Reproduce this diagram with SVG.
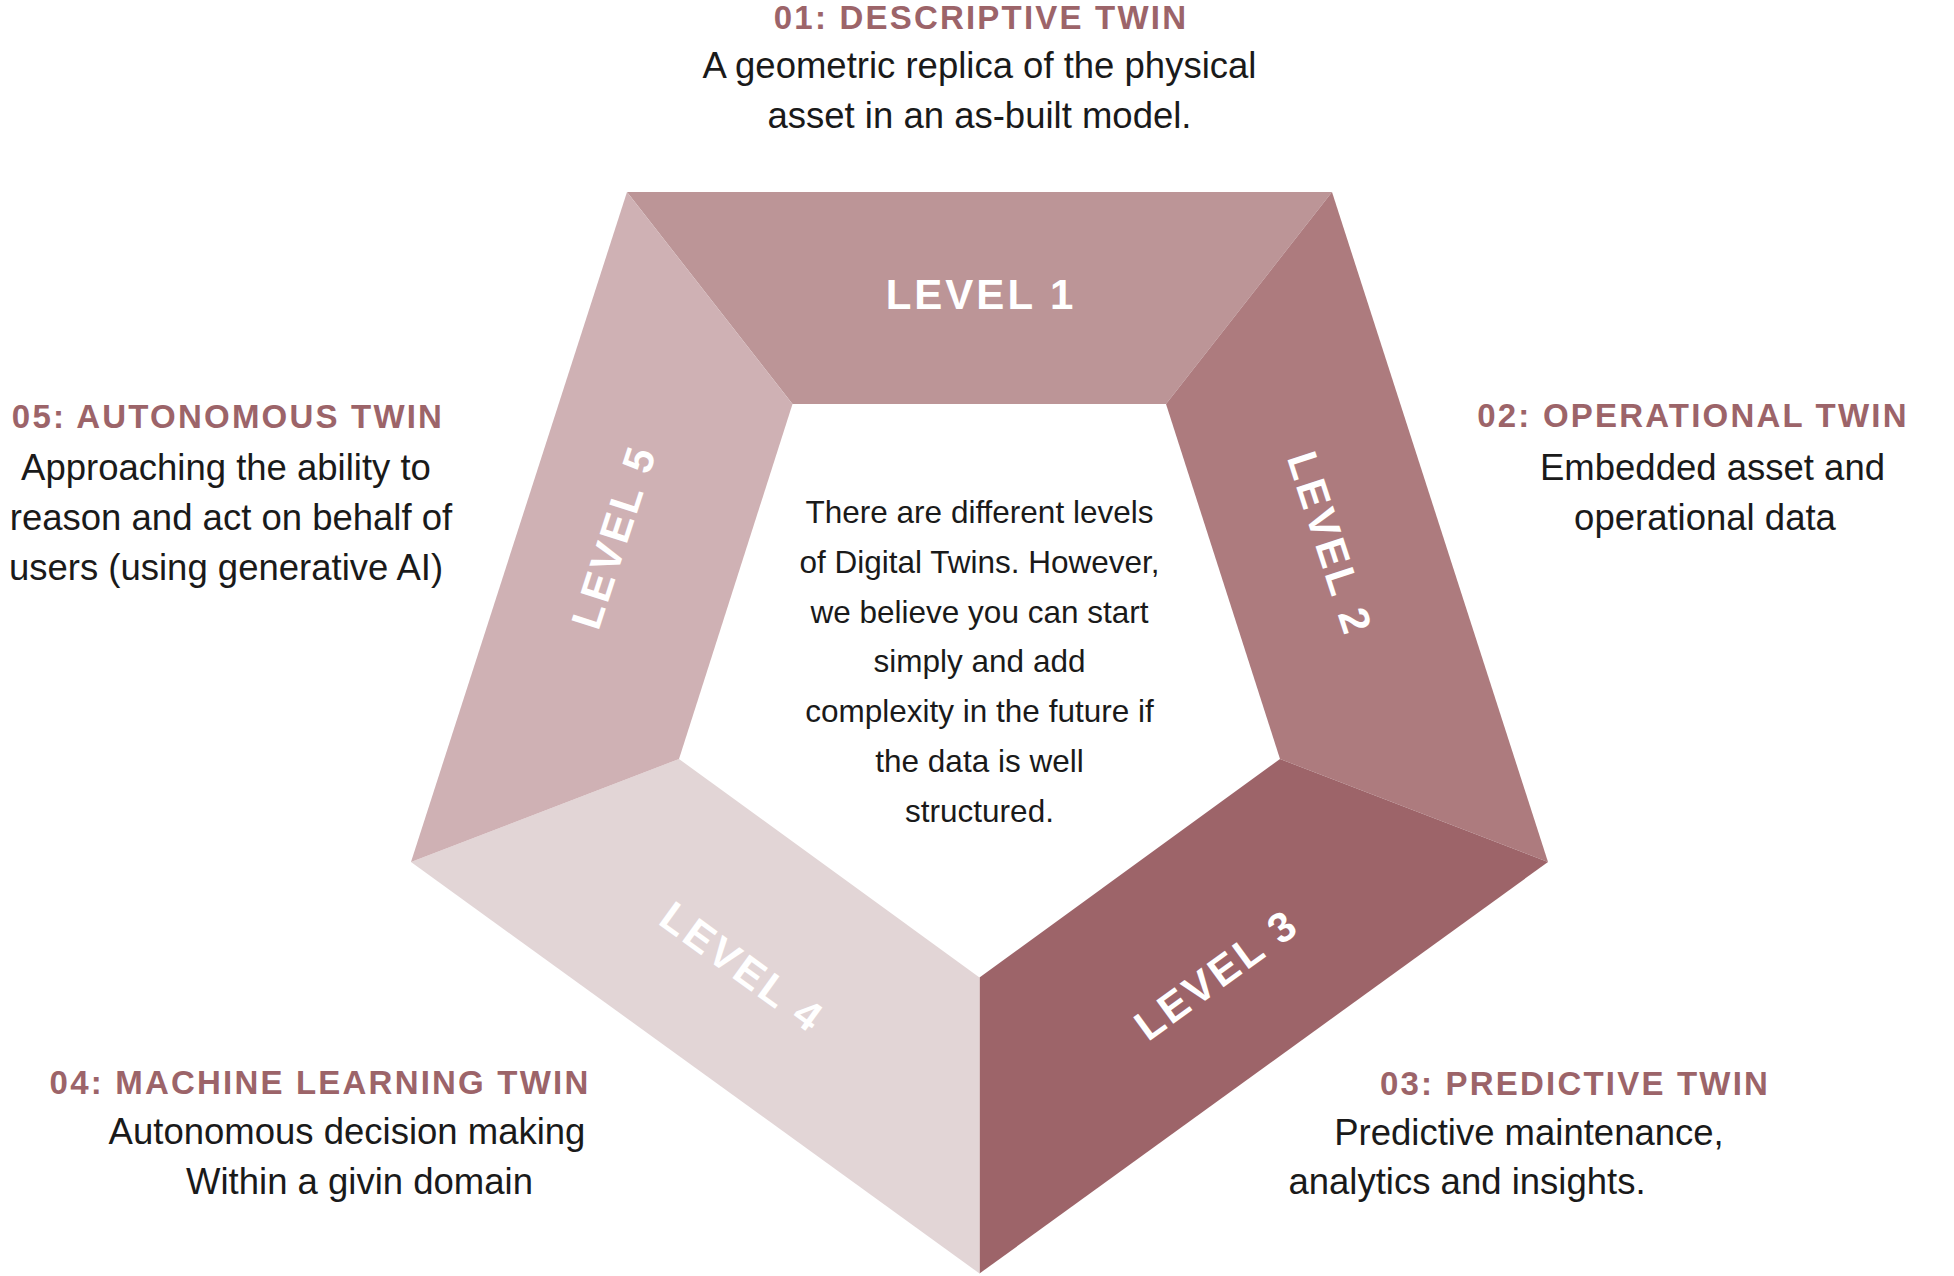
<svg xmlns="http://www.w3.org/2000/svg" width="1954" height="1276" viewBox="0 0 1954 1276">
<style>
.title{font-family:"Liberation Sans",Arial,sans-serif;font-weight:bold;font-size:33px;letter-spacing:2.2px;fill:#9C6469;text-anchor:middle}
.body{font-family:"Liberation Sans",Arial,sans-serif;font-size:36.5px;fill:#1a1a1a;text-anchor:middle}
.center{font-family:"Liberation Sans",Arial,sans-serif;font-size:31.5px;fill:#1a1a1a;text-anchor:middle}
.lvl{font-family:"Liberation Sans",Arial,sans-serif;font-weight:bold;font-size:42px;letter-spacing:3px;fill:#ffffff;text-anchor:middle}
</style>
<rect width="1954" height="1276" fill="#ffffff"/>
<g id="level1">
<polygon points="627,192 1332,192 1166,404 792.5,404" fill="#BC9597"/>
<text class="lvl" x="981" y="309">LEVEL 1</text>
</g>
<g id="level2">
<polygon points="1332,192 1548,862 1280,759 1166,404" fill="#AD7B7E"/>
<text class="lvl" transform="translate(1330,542) rotate(72)" x="1.5" y="15">LEVEL 2</text>
</g>
<g id="level3">
<polygon points="1548,862 979.5,1273.5 979.5,977.5 1280,759" fill="#9D6469"/>
<text class="lvl" transform="translate(1215,975) rotate(-36)" x="1.5" y="15">LEVEL 3</text>
</g>
<g id="level4">
<polygon points="979.5,1273.5 411,862 679,759 979.5,977.5" fill="#E2D5D6"/>
<text class="lvl" transform="translate(741.5,966) rotate(36)" x="1.5" y="15">LEVEL 4</text>
</g>
<g id="level5">
<polygon points="411,862 627,192 792.5,404 679,759" fill="#CFB1B4"/>
<text class="lvl" transform="translate(613,538) rotate(-72)" x="1.5" y="15">LEVEL 5</text>
</g>
<g id="center-text">
<text class="center" x="979.5" y="523">There are different levels</text>
<text class="center" x="979.5" y="573">of Digital Twins. However,</text>
<text class="center" x="979.5" y="622.5">we believe you can start</text>
<text class="center" x="979.5" y="672">simply and add</text>
<text class="center" x="979.5" y="722">complexity in the future if</text>
<text class="center" x="979.5" y="772">the data is well</text>
<text class="center" x="979.5" y="821.5">structured.</text>
</g>
<g id="desc01">
<text class="title" x="981" y="29">01: DESCRIPTIVE TWIN</text>
<text class="body" x="979.5" y="78">A geometric replica of the physical</text>
<text class="body" x="979.5" y="128">asset in an as-built model.</text>
</g>
<g id="desc02">
<text class="title" x="1693" y="427">02: OPERATIONAL TWIN</text>
<text class="body" x="1712.5" y="479.5">Embedded asset and</text>
<text class="body" x="1705" y="529.5">operational data</text>
</g>
<g id="desc03">
<text class="title" x="1575" y="1095">03: PREDICTIVE TWIN</text>
<text class="body" x="1529" y="1145">Predictive maintenance,</text>
<text class="body" x="1467" y="1194">analytics and insights.</text>
</g>
<g id="desc04">
<text class="title" x="320" y="1094">04: MACHINE LEARNING TWIN</text>
<text class="body" x="347" y="1144">Autonomous decision making</text>
<text class="body" x="359.5" y="1194">Within a givin domain</text>
</g>
<g id="desc05">
<text class="title" x="228" y="428">05: AUTONOMOUS TWIN</text>
<text class="body" x="226" y="480">Approaching the ability to</text>
<text class="body" x="231" y="530">reason and act on behalf of</text>
<text class="body" x="226" y="579.5">users (using generative AI)</text>
</g>
<g id="connectors"></g>
</svg>
